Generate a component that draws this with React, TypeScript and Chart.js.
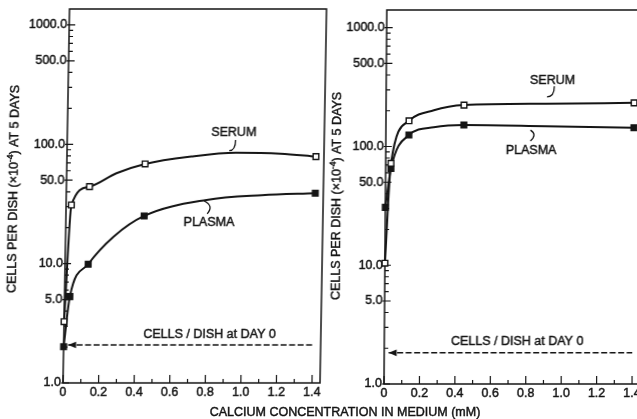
import React, { useEffect, useRef } from "react";
import { Chart, registerables } from "chart.js";

Chart.register(...registerables);

const INK = "#151515";
const FONT = "'Liberation Sans', Arial, Helvetica, sans-serif";
const TEXT_STROKE = 0.45;

// Calcium concentrations (mM) at which cells were counted
const calcium = [0, 0.03, 0.13, 0.44, 1.4];

// Cells per dish (x10^-4) after 5 days, first experiment
const leftSerum = [3.26, 31.0, 44.2, 68.4, 78.8];
const leftPlasma = [2.01, 5.29, 9.88, 25.1, 38.9];

// Cells per dish (x10^-4) after 5 days, second experiment
const rightSerum = [10.4, 72.1, 164.6, 223, 233];
const rightPlasma = [30.7, 65.4, 124.7, 151.4, 143.7];

// Hand-fitted curves drawn through the measurements
const leftSerumFitX = [0, 0.03, 0.13, 0.28, 0.44, 0.7, 0.95, 1.2, 1.4];
const leftSerumFitY = [3.26, 31.0, 44.2, 57.2, 68.4, 79, 85, 83.5, 78.8];
const leftPlasmaFitX = [0, 0.03, 0.13, 0.27, 0.44, 0.79, 1.1, 1.4];
const leftPlasmaFitY = [2.01, 5.29, 9.88, 16.8, 25.1, 34.2, 37.5, 38.9];
const rightSerumFitX = [0, 0.03, 0.13, 0.27, 0.44, 0.9, 1.4];
const rightSerumFitY = [10.4, 72.1, 164.6, 202, 223, 229, 233];
const rightPlasmaFitX = [0, 0.03, 0.13, 0.27, 0.44, 0.9, 1.4];
const rightPlasmaFitY = [30.7, 65.4, 124.7, 145, 151.4, 148, 143.7];

// Plating density (cells per dish at day 0)
const leftDayZero = 2.08;
const rightDayZero = 1.83;
const dayZeroSpan = [0.025, 1.4];

// Axis ticks
const yMajor = [1, 5, 10, 50, 100, 500, 1000];
const yMinor = [2, 3, 4, 6, 7, 8, 9, 20, 30, 40, 60, 70, 80, 90, 200, 300, 400, 600, 700, 800, 900];
const xMajor = [0, 0.2, 0.4, 0.6, 0.8, 1.0, 1.2, 1.4];
const xMinor = [0.1, 0.3, 0.5, 0.7, 0.9, 1.1, 1.3];

const X_MAX = 1.445;

type Pt = { x: number; y: number };
type Note = { text: string; x: number; y: number };

type PanelSpec = {
  serum: number[];
  plasma: number[];
  serumFit: Pt[];
  plasmaFit: Pt[];
  dayZero: number;
  yMax: number;
  notes: Note[];
  leaders: Pt[][];
  width: number;
  padding: { left: number; right: number; top: number; bottom: number };
  titleGap: number;
  titleY: number;
  skew: number;
};

const zip = (xs: number[], ys: number[]): Pt[] => xs.map((x, i) => ({ x, y: ys[i] }));

const leftSpec: PanelSpec = {
  serum: leftSerum,
  plasma: leftPlasma,
  serumFit: zip(leftSerumFitX, leftSerumFitY),
  plasmaFit: zip(leftPlasmaFitX, leftPlasmaFitY),
  dayZero: leftDayZero,
  yMax: 1360,
  notes: [
    { text: "SERUM", x: 0.936, y: 125 },
    { text: "PLASMA", x: 0.805, y: 22 },
    { text: "CELLS / DISH at DAY 0", x: 0.819, y: 2.56 },
  ],
  leaders: [
    [{ x: 0.947, y: 108.7 }, { x: 0.912, y: 88.5 }],
    [{ x: 0.776, y: 33.5 }, { x: 0.809, y: 30.0 }, { x: 0.794, y: 26.1 }],
  ],
  width: 326,
  padding: { left: 63, right: 6, top: 9, bottom: 36 },
  titleGap: 52,
  titleY: 189,
  skew: -1.0,
};

const rightSpec: PanelSpec = {
  serum: rightSerum,
  plasma: rightPlasma,
  serumFit: zip(rightSerumFitX, rightSerumFitY),
  plasmaFit: zip(rightPlasmaFitX, rightPlasmaFitY),
  dayZero: rightDayZero,
  yMax: 1410,
  notes: [
    { text: "SERUM", x: 0.939, y: 362 },
    { text: "PLASMA", x: 0.82, y: 93.3 },
    { text: "CELLS / DISH at DAY 0", x: 0.75, y: 2.27 },
  ],
  leaders: [
    [{ x: 0.949, y: 322 }, { x: 0.908, y: 262 }],
    [{ x: 0.816, y: 137.4 }, { x: 0.836, y: 124.7 }, { x: 0.816, y: 111 }],
  ],
  width: 320,
  padding: { left: 58, right: 6, top: 10, bottom: 35 },
  titleGap: 48,
  titleY: 196,
  skew: -0.43,
};

// Fill plus a hairline stroke so the lettering has the weight of a printed figure
function inkText(ctx: CanvasRenderingContext2D, text: string, x: number, y: number) {
  ctx.fillText(text, x, y);
  ctx.strokeText(text, x, y);
}

function drawYTitle(ctx: CanvasRenderingContext2D, cx: number, cy: number) {
  const main = `12.5px ${FONT}`;
  const small = `8.5px ${FONT}`;
  const parts = [
    { t: "CELLS PER DISH (\u00d710", f: main, dy: 0 },
    { t: "-4", f: small, dy: -4.5 },
    { t: ") AT 5 DAYS", f: main, dy: 0 },
  ];
  ctx.save();
  ctx.translate(cx, cy);
  ctx.rotate(-Math.PI / 2);
  ctx.textBaseline = "middle";
  ctx.textAlign = "left";
  let total = 0;
  for (const p of parts) {
    ctx.font = p.f;
    total += ctx.measureText(p.t).width;
  }
  let px = -total / 2;
  for (const p of parts) {
    ctx.font = p.f;
    inkText(ctx, p.t, px, p.dy);
    px += ctx.measureText(p.t).width;
  }
  ctx.restore();
}

function panelPlugin(spec: PanelSpec) {
  return {
    id: "panelFrame",
    beforeDatasetsDraw(chart: any) {
      const { ctx, chartArea: a, scales } = chart;
      const x = scales.x;
      const y = scales.y;
      ctx.save();
      ctx.strokeStyle = INK;
      ctx.lineWidth = 1.5;
      ctx.strokeRect(a.left, a.top, a.right - a.left, a.bottom - a.top);

      ctx.lineWidth = 1.2;
      ctx.beginPath();
      for (const v of yMajor) {
        const py = y.getPixelForValue(v);
        ctx.moveTo(a.left - 2, py);
        ctx.lineTo(a.left + 6, py);
      }
      for (const v of yMinor) {
        const py = y.getPixelForValue(v);
        ctx.moveTo(a.left, py);
        ctx.lineTo(a.left + 4, py);
      }
      for (const v of xMajor) {
        const px = x.getPixelForValue(v);
        ctx.moveTo(px, a.bottom);
        ctx.lineTo(px, a.bottom - 8);
      }
      for (const v of xMinor) {
        const px = x.getPixelForValue(v);
        ctx.moveTo(px, a.bottom);
        ctx.lineTo(px, a.bottom - 4);
      }
      ctx.stroke();

      ctx.fillStyle = INK;
      ctx.lineWidth = TEXT_STROKE;
      ctx.font = `12.5px ${FONT}`;
      ctx.textAlign = "right";
      ctx.textBaseline = "middle";
      for (const v of yMajor) {
        inkText(ctx, v.toFixed(1), a.left - 2, y.getPixelForValue(v));
      }
      ctx.textAlign = "center";
      for (const v of xMajor) {
        inkText(ctx, v === 0 ? "0" : v.toFixed(1), x.getPixelForValue(v), a.bottom + 10);
      }
      drawYTitle(ctx, a.left - spec.titleGap, spec.titleY);
      ctx.restore();
    },
    afterDatasetsDraw(chart: any) {
      const { ctx, scales } = chart;
      const x = scales.x;
      const y = scales.y;
      ctx.save();
      ctx.fillStyle = INK;
      ctx.strokeStyle = INK;

      // arrow head at the start of the day-0 line
      const tipX = x.getPixelForValue(dayZeroSpan[0]);
      const tipY = y.getPixelForValue(spec.dayZero);
      ctx.beginPath();
      ctx.moveTo(tipX, tipY);
      ctx.lineTo(tipX + 8, tipY - 3.3);
      ctx.lineTo(tipX + 8, tipY + 3.3);
      ctx.closePath();
      ctx.fill();

      ctx.font = `12.5px ${FONT}`;
      ctx.textAlign = "center";
      ctx.textBaseline = "middle";
      ctx.lineWidth = TEXT_STROKE;
      for (const n of spec.notes) {
        inkText(ctx, n.text, x.getPixelForValue(n.x), y.getPixelForValue(n.y));
      }

      ctx.lineWidth = 1.3;
      for (const l of spec.leaders) {
        const p = l.map((q) => ({ px: x.getPixelForValue(q.x), py: y.getPixelForValue(q.y) }));
        ctx.beginPath();
        ctx.moveTo(p[0].px, p[0].py);
        if (p.length === 2) {
          ctx.quadraticCurveTo(p[0].px, p[1].py, p[1].px, p[1].py);
        } else {
          const cx = 2 * p[1].px - (p[0].px + p[2].px) / 2;
          const cy = 2 * p[1].py - (p[0].py + p[2].py) / 2;
          ctx.quadraticCurveTo(cx, cy, p[2].px, p[2].py);
        }
        ctx.stroke();
      }
      ctx.restore();
    },
  };
}

function Panel({ spec, left }: { spec: PanelSpec; left: number }) {
  const ref = useRef<HTMLCanvasElement>(null);
  useEffect(() => {
    const canvas = ref.current;
    if (!canvas) return;
    const curve = (data: Pt[]) => ({
      data,
      borderColor: INK,
      borderWidth: 2,
      pointRadius: 0,
      pointHoverRadius: 0,
      cubicInterpolationMode: "monotone" as const,
      clip: false as const,
    });
    const markers = (vals: number[], filled: boolean) => ({
      data: calcium.map((c, i) => ({ x: c, y: vals[i] })),
      showLine: false,
      pointStyle: "rect" as const,
      pointRadius: 4.0,
      pointHoverRadius: 4.0,
      pointBorderWidth: 1.4,
      pointBorderColor: INK,
      pointBackgroundColor: filled ? INK : "#ffffff",
      clip: false as const,
    });
    const chart = new Chart(canvas, {
      type: "line",
      data: {
        datasets: [
          markers(spec.serum, false),
          markers(spec.plasma, true),
          curve(spec.serumFit),
          curve(spec.plasmaFit),
          {
            data: dayZeroSpan.map((c) => ({ x: c, y: spec.dayZero })),
            borderColor: INK,
            borderWidth: 1.5,
            borderDash: [6, 2.5],
            pointRadius: 0,
            pointHoverRadius: 0,
          },
        ] as any,
      },
      options: {
        animation: false,
        responsive: false,
        devicePixelRatio: 1,
        events: [],
        layout: { padding: spec.padding },
        plugins: { legend: { display: false }, tooltip: { enabled: false } },
        scales: {
          x: { type: "linear", min: 0, max: X_MAX, display: false },
          y: { type: "logarithmic", min: 1, max: spec.yMax, display: false },
        },
      },
      plugins: [panelPlugin(spec)],
    });
    return () => chart.destroy();
  }, [spec]);
  return (
    <canvas
      ref={ref}
      width={spec.width}
      height={419}
      style={{
        position: "absolute",
        left,
        top: 0,
        width: spec.width,
        height: 419,
        transform: `skewX(${spec.skew}deg)`,
        transformOrigin: `0 ${419 - spec.padding.bottom}px`,
      }}
    />
  );
}

export default function App() {
  return (
    <div
      style={{
        position: "absolute",
        left: 0,
        top: 0,
        width: 637,
        height: 419,
        overflow: "hidden",
        background: "#ffffff",
      }}
    >
      <Panel spec={leftSpec} left={0} />
      <Panel spec={rightSpec} left={326} />
      <div
        style={{
          position: "absolute",
          left: 0,
          width: 690,
          top: 405,
          lineHeight: "14px",
          textAlign: "center",
          fontFamily: FONT,
          fontSize: 12.5,
          color: INK,
          whiteSpace: "nowrap",
          WebkitTextStroke: `${TEXT_STROKE}px ${INK}`,
        }}
      >
        CALCIUM CONCENTRATION IN MEDIUM (mM)
      </div>
    </div>
  );
}
